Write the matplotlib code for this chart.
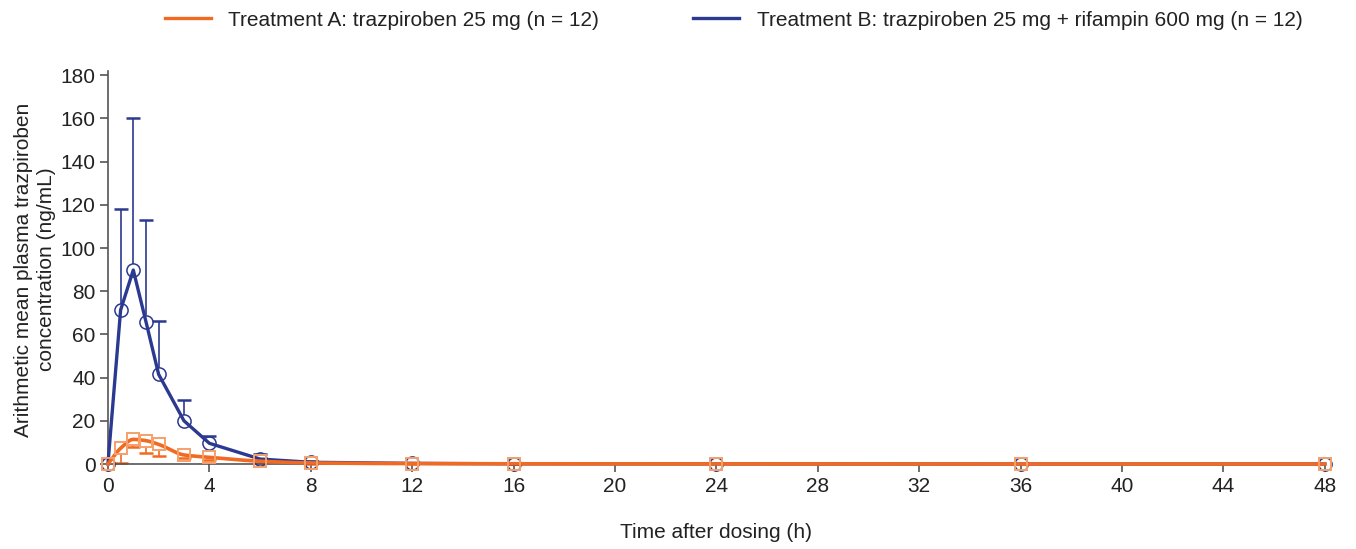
import numpy as np
import matplotlib
matplotlib.use("Agg")
import matplotlib.pyplot as plt

plt.rcParams['font.family'] = ['Liberation Sans', 'DejaVu Sans']

# time points (h)
t = [0, 0.5, 1, 1.5, 2, 3, 4, 6, 8, 12, 16, 24, 36, 48]

# Treatment A: trazpiroben 25 mg
mean_a = [0, 7.3, 11.4, 10.8, 9.1, 4.2, 3.1, 1.3, 0.5, 0.2, 0.1, 0.05, 0.0, 0.0]
sd_a = [0, 6.7, 3.7, 5.7, 5.2, 1.3, 1.1, 0.6, 0.3, 0.1, 0.05, 0.0, 0.0, 0.0]

# Treatment B: trazpiroben 25 mg + rifampin 600 mg
mean_b = [0, 71.3, 89.8, 65.9, 41.5, 20.0, 9.6, 2.3, 0.8, 0.3, 0.1, 0.05, 0.0, 0.0]
sd_b = [0, 46.7, 70.6, 47.1, 24.7, 9.6, 3.4, 2.2, 0.5, 0.2, 0.1, 0.0, 0.0, 0.0]

orange = "#F26A21"
orange_light = "#F5A06A"
blue = "#2B3990"


def pchip(x, y, xs):
    # monotone cubic for a smooth rendering of the mean line
    x = np.asarray(x, float); y = np.asarray(y, float)
    h = np.diff(x); d = np.diff(y) / h
    m = np.zeros_like(y)
    for k in range(1, len(x) - 1):
        if d[k - 1] * d[k] > 0:
            w1 = 2 * h[k] + h[k - 1]; w2 = h[k] + 2 * h[k - 1]
            m[k] = (w1 + w2) / (w1 / d[k - 1] + w2 / d[k])
    m[0] = d[0]; m[-1] = d[-1]
    idx = np.clip(np.searchsorted(x, xs) - 1, 0, len(h) - 1)
    s = (xs - x[idx]) / h[idx]
    h00 = 2 * s**3 - 3 * s**2 + 1; h10 = s**3 - 2 * s**2 + s
    h01 = -2 * s**3 + 3 * s**2; h11 = s**3 - s**2
    return h00 * y[idx] + h10 * h[idx] * m[idx] + h01 * y[idx + 1] + h11 * h[idx] * m[idx + 1]


def one_sided_bars(ax, x, y, err, sign, color, r):
    # error bar from marker edge to mean +/- sd, cap at the end
    x = np.asarray(x, float); y = np.asarray(y, float); err = np.asarray(err, float)
    end = y + sign * err
    keep = err > r
    ax.vlines(x[keep], y[keep] + sign * r, end[keep], color=color, lw=1.2, zorder=2, clip_on=False)
    show = err > 0
    ax.plot(x[show], end[show], ls="none", marker="_", ms=10, mew=1.8, color=color,
            zorder=2, clip_on=False)


fig = plt.figure(figsize=(13.56, 5.49), dpi=100)
ax = fig.add_axes([0.0796, 0.1548, 0.8974, 0.7082])

# Treatment A (smooth line, lower error bars)
xs = np.linspace(0, 48, 2000)
one_sided_bars(ax, t, mean_a, sd_a, -1, orange, 2.8)
ax.plot(xs, pchip(t, mean_a, xs), color=orange, lw=2.6, zorder=4, clip_on=False)
ax.plot(t, mean_a, ls="none", marker="s", ms=9, mfc="none", mec=orange_light, mew=1.4,
        zorder=5, clip_on=False)

# Treatment B (straight line, upper error bars)
one_sided_bars(ax, t, mean_b, sd_b, 1, blue, 2.9)
ax.plot(t, mean_b, color=blue, lw=2.4, zorder=3, clip_on=False)
ax.plot(t, mean_b, ls="none", marker="o", ms=9.5, mfc="none", mec=blue, mew=1.1,
        zorder=3, clip_on=False)

ax.plot([], [], color=orange, lw=2.4, label="Treatment A: trazpiroben 25 mg (n = 12)")
ax.plot([], [], color=blue, lw=2.4, label="Treatment B: trazpiroben 25 mg + rifampin 600 mg (n = 12)")

ax.set_xlim(0, 48)
ax.set_ylim(0, 180)
ax.set_xticks(range(0, 49, 4))
ax.set_yticks(range(0, 181, 20))
ax.spines["top"].set_visible(False)
ax.spines["right"].set_visible(False)
for sp in ("left", "bottom"):
    ax.spines[sp].set_color("#555555")
    ax.spines[sp].set_linewidth(1.2)
ax.spines["left"].set_bounds(0, 182)
ax.tick_params(axis="both", direction="out", length=6, width=1.2, color="#555555",
               labelsize=15, labelcolor="#222222", pad=3)

ax.set_xlabel("Time after dosing (h)", fontsize=15, color="#222222", labelpad=20)
ax.set_ylabel("Arithmetic mean plasma trazpiroben\nconcentration (ng/mL)", fontsize=15,
              color="#222222", labelpad=3, linespacing=1.3)

h, l = ax.get_legend_handles_labels()
fig.legend(h[-2:], l[-2:], loc="upper center", bbox_to_anchor=(0.541, 1.015), ncol=2,
           frameon=False, fontsize=15, handlelength=2.2, handletextpad=0.85,
           columnspacing=4.5, labelcolor="#222222")

fig.savefig("out.png", dpi=100)
